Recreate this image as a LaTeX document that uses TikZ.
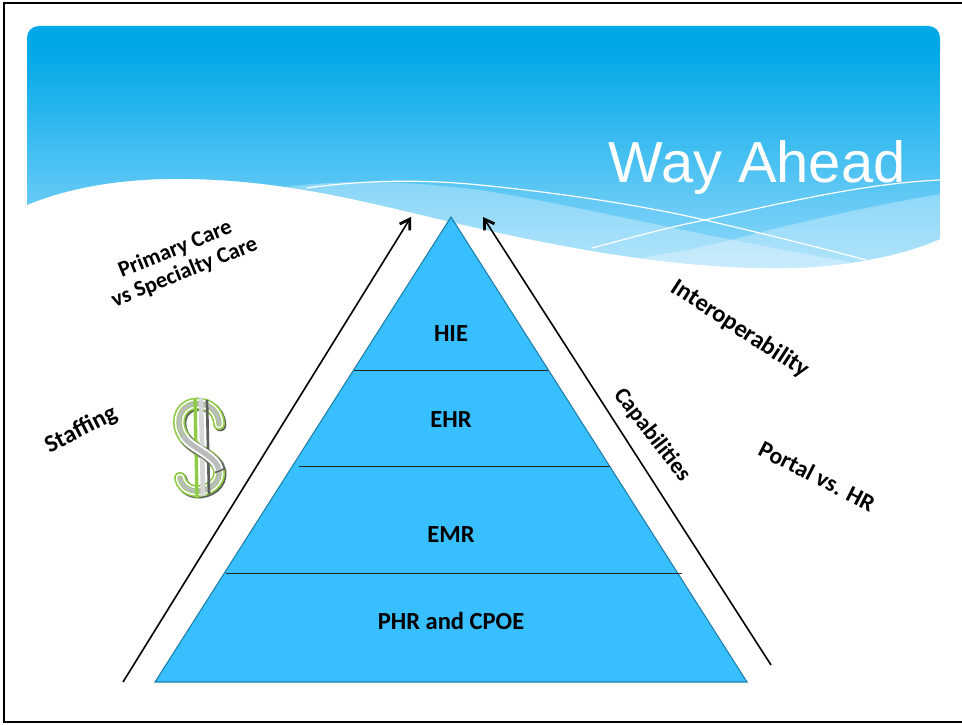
\documentclass[tikz,border=0pt]{standalone}
\usepackage{fontspec}
\setmainfont{Carlito}
\newfontfamily\titlefont{Liberation Sans}
\usetikzlibrary{arrows.meta}
\definecolor{pyr}{HTML}{38BFFF}
\definecolor{pyredge}{HTML}{1F7FA8}
\definecolor{hdrtop}{HTML}{00A8E8}
\definecolor{hdrbot}{HTML}{93D9FB}
\definecolor{dgreen}{HTML}{8FCB45}
\definecolor{dgrey}{HTML}{B9BDBC}
\definecolor{ddark}{HTML}{5A5F5C}
\tikzset{
  lab/.style={font=\fontsize{18.4}{20}\selectfont\bfseries, text=black, align=center, inner sep=0pt},
  riser/.style={draw=black, line width=1.2pt, -{Straight Barb[length=7pt,width=9pt,line width=2.1pt]}},
  tier/.style={draw=black!85, line width=0.7pt},
  wavelight/.style={fill=white, fill opacity=.3, draw=none},
  wavewhite/.style={draw=white, line width=0.9pt},
  sstroke/.pic={
    \path[pic actions] (219,424) .. controls (218,407) and (204,402) .. (193,404)
      .. controls (178,407) and (175,425) .. (184,437)
      .. controls (192,449) and (216,455) .. (219,470)
      .. controls (221,483) and (208,492) .. (195,491)
      .. controls (186,490) and (181,484) .. (180,478);
  },
  smid/.pic={
    \path[pic actions] (184,437) .. controls (192,449) and (216,455) .. (219,470);
  }
}
\begin{document}
\begin{tikzpicture}[x=0.75pt,y=-0.75pt]
\useasboundingbox (0,0) rectangle (962,724);
\fill[white] (0,0) rectangle (962,724);
\draw[black,line width=1.6pt] (962,3) -- (4,3) -- (4,722) -- (962,722);
% header
\begin{scope}
\clip (27,205) -- (27,38) .. controls (27,31) and (32,26) .. (39,26) -- (928,26) .. controls (935,26) and (940,31) .. (940,38) -- (940,239)
  .. controls (900,257) and (840,267) .. (790,268)
  .. controls (660,270) and (530,240) .. (451,222)
  .. controls (370,203) and (290,181) .. (190,179)
  .. controls (140,178) and (80,183) .. (27,205) -- cycle;
\fill[hdrtop] (20,20) rectangle (950,52);
\shade[top color=hdrtop,bottom color=hdrbot] (20,50) rectangle (950,272);
\fill[wavelight] (285,187) .. controls (340,180) and (400,180) .. (480,190)
  .. controls (570,204) and (680,232) .. (850,262) -- (850,280) -- (400,280) -- cycle;
\fill[wavelight] (940,194) .. controls (860,208) and (800,222) .. (723,242)
  .. controls (700,248) and (670,253) .. (640,258) -- (700,280) -- (950,280) -- cycle;
\draw[wavewhite] (307,188) .. controls (370,179) and (430,180) .. (480,185)
  .. controls (560,193) and (640,205) .. (705,220) .. controls (760,233) and (810,245) .. (866,260);
\draw[wavewhite] (592,248) .. controls (630,238) and (665,228) .. (705,220)
  .. controls (790,201) and (870,183) .. (940,180);
\end{scope}
\node[font=\titlefont\fontsize{43.4}{46}\selectfont, text=white, inner sep=0pt] (title) at (757,168) {Way Ahead};
% pyramid
\path[fill=pyr,draw=pyredge,line width=0.8pt] (451,217) -- (747,682) -- (155,682) -- cycle;
\coordinate (t1l) at (354,370); \coordinate (t1r) at (548,370);
\coordinate (t2l) at (299,466); \coordinate (t2r) at (610,466);
\coordinate (t3l) at (226,573); \coordinate (t3r) at (682,573);
\draw[tier] (t1l) -- (t1r);
\draw[tier] (t2l) -- (t2r);
\draw[tier] (t3l) -- (t3r);
\node[lab] (hie) at (451,334) {HIE};
\node[lab] (ehr) at (451,420) {EHR};
\node[lab] (emr) at (451,535) {EMR};
\node[lab] (phr) at (451,621) {PHR and CPOE};
% arrows
\coordinate (al) at (123,682); \coordinate (ar) at (411,217);
\coordinate (bl) at (771,665); \coordinate (br) at (483,217);
\draw[riser] (al) -- (ar);
\draw[riser] (bl) -- (br);
% labels
\node[lab,rotate=22,font=\fontsize{16.8}{18.5}\selectfont\bfseries] (care) at (180,261) {Primary Care\\vs Specialty Care};
\node[lab,rotate=27] (staff) at (81,430) {Staffing};
\node[lab,rotate=-33] (inter) at (740,329) {Interoperability};
\node[lab,rotate=-52,font=\fontsize{17.2}{19}\selectfont\bfseries] (cap) at (652,435) {Capabilities};
\node[lab,rotate=-27,font=\fontsize{17.8}{20}\selectfont\bfseries] (portal) at (817,476) {Portal vs. HR};
% dollar sign
\pic[draw=ddark,line width=9pt,line cap=round,xshift=1pt,yshift=-1pt] {sstroke};
\pic[draw=dgreen,line width=9pt,line cap=round] {sstroke};
\pic[draw=white,line width=6.5pt,line cap=round] {sstroke};
\pic[draw=dgreen!70!dgrey,line width=4pt,line cap=round] {sstroke};
\pic[draw=dgrey,line width=2.6pt,line cap=round] {sstroke};
\draw[dgreen,line width=2.5pt] (195,398) -- (197,498);
\draw[ddark,line width=2pt] (207,400) -- (209,494);
\draw[dgrey!60,line width=3.5pt] (201,398) -- (203,496);
\pic[draw=ddark,line width=8pt,line cap=butt,xshift=1pt,yshift=-1pt] {smid};
\pic[draw=white,line width=7pt,line cap=butt] {smid};
\pic[draw=dgrey,line width=4pt,line cap=butt] {smid};
\end{tikzpicture}
\end{document}
